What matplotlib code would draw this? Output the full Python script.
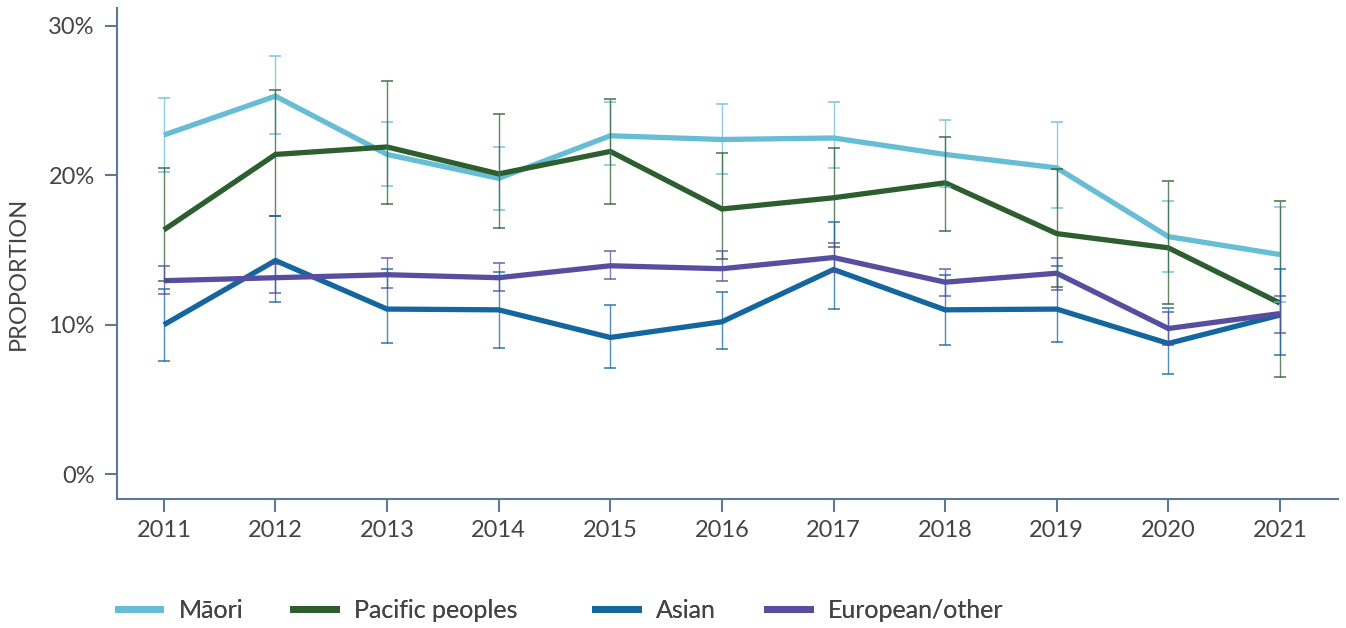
import matplotlib
matplotlib.use("Agg")
import matplotlib.pyplot as plt
from matplotlib.ticker import FuncFormatter
from matplotlib.lines import Line2D

years = [2011, 2012, 2013, 2014, 2015, 2016, 2017, 2018, 2019, 2020, 2021]

maori = [22.7, 25.3, 21.4, 19.8, 22.65, 22.4, 22.5, 21.4, 20.5, 15.9, 14.7]
maori_hi = [25.2, 28.0, 23.6, 21.9, 24.9, 24.8, 24.9, 23.7, 23.6, 18.3, 17.9]
maori_lo = [20.2, 22.8, 19.3, 17.7, 20.7, 20.1, 20.5, 19.2, 17.8, 13.5, 11.5]

pacific = [16.35, 21.4, 21.9, 20.1, 21.6, 17.75, 18.5, 19.5, 16.1, 15.15, 11.45]
pacific_hi = [20.5, 25.7, 26.3, 24.1, 25.1, 21.5, 21.8, 22.6, 20.4, 19.6, 18.3]
pacific_lo = [12.9, 17.3, 18.1, 16.5, 18.1, 14.4, 15.2, 16.3, 12.5, 11.4, 6.5]

asian = [10.0, 14.3, 11.05, 11.0, 9.15, 10.2, 13.7, 11.0, 11.05, 8.75, 10.65]
asian_hi = [12.4, 17.3, 13.7, 13.5, 11.3, 12.2, 16.9, 13.3, 13.9, 11.1, 13.7]
asian_lo = [7.6, 11.5, 8.75, 8.45, 7.1, 8.4, 11.05, 8.65, 8.85, 6.7, 8.0]

european = [12.95, 13.15, 13.35, 13.15, 13.95, 13.75, 14.5, 12.85, 13.45, 9.75, 10.75]
european_hi = [13.9, 14.1, 14.5, 14.15, 14.95, 14.95, 15.5, 13.7, 14.5, 10.85, 11.9]
european_lo = [12.05, 12.15, 12.45, 12.25, 13.05, 12.9, 13.55, 11.95, 12.3, 8.65, 9.45]

series_names = ["Māori", "Pacific peoples", "Asian", "European/other"]
colors = ["#67bcd6", "#2d5e2e", "#14669f", "#574ea0"]

y_ticks = [0, 10, 20, 30]

plt.rcParams['font.family'] = ['Lato', 'DejaVu Sans']
text_color = "#444444"
spine_color = "#5b7896"

fig = plt.figure(figsize=(13.46, 6.28), dpi=100)
ax = fig.add_axes([117/1346, 1 - 499/628, (1338 - 117)/1346, (499 - 8)/628])

data = [(maori, maori_lo, maori_hi), (pacific, pacific_lo, pacific_hi),
        (asian, asian_lo, asian_hi), (european, european_lo, european_hi)]

handles = []
for (vals, lo, hi), name, c in zip(data, series_names, colors):
    ln, = ax.plot(years, vals, color=c, lw=3.8, zorder=2, solid_joinstyle='miter',
                  solid_capstyle='butt', label=name)
    handles.append(ln)
    yerr = [[v - l for v, l in zip(vals, lo)], [h - v for v, h in zip(vals, hi)]]
    ax.errorbar(years, vals, yerr=yerr, fmt='none', ecolor=c, elinewidth=1.0,
                capsize=4.5, capthick=1.3, alpha=0.75, zorder=3)

ax.set_xlim(2010.58, 2021.52)
ax.set_ylim(-1.66, 31.2)
ax.set_xticks(years)
ax.set_yticks(y_ticks)
ax.yaxis.set_major_formatter(FuncFormatter(lambda v, p: f"{v:.0f}%"))

for s in ["top", "right"]:
    ax.spines[s].set_visible(False)
for s in ["left", "bottom"]:
    ax.spines[s].set_color(spine_color)
    ax.spines[s].set_linewidth(1.5)

ax.tick_params(axis='both', colors=spine_color, length=9, width=1.5,
               labelsize=17, labelcolor=text_color)
ax.tick_params(axis='y', pad=7)
ax.tick_params(axis='x', pad=6)

fig.text(18/1346, 1 - 273/628, "PROPORTION", rotation=90, ha='center', va='center',
         fontsize=17, color=text_color)

# Legend entries, one per series
starts = [118, 293, 595, 767]
for h, x0 in zip(handles, starts):
    lh = Line2D([], [], color=h.get_color(), lw=5)
    leg = fig.legend([lh], [h.get_label()], loc='center left',
                     bbox_to_anchor=(x0/1346, 1 - 610/628), frameon=False,
                     fontsize=18, handlelength=1.7, handletextpad=0.72,
                     borderaxespad=0, borderpad=0, labelcolor=text_color)
    fig.add_artist(leg)

fig.savefig("out.png", dpi=100)
